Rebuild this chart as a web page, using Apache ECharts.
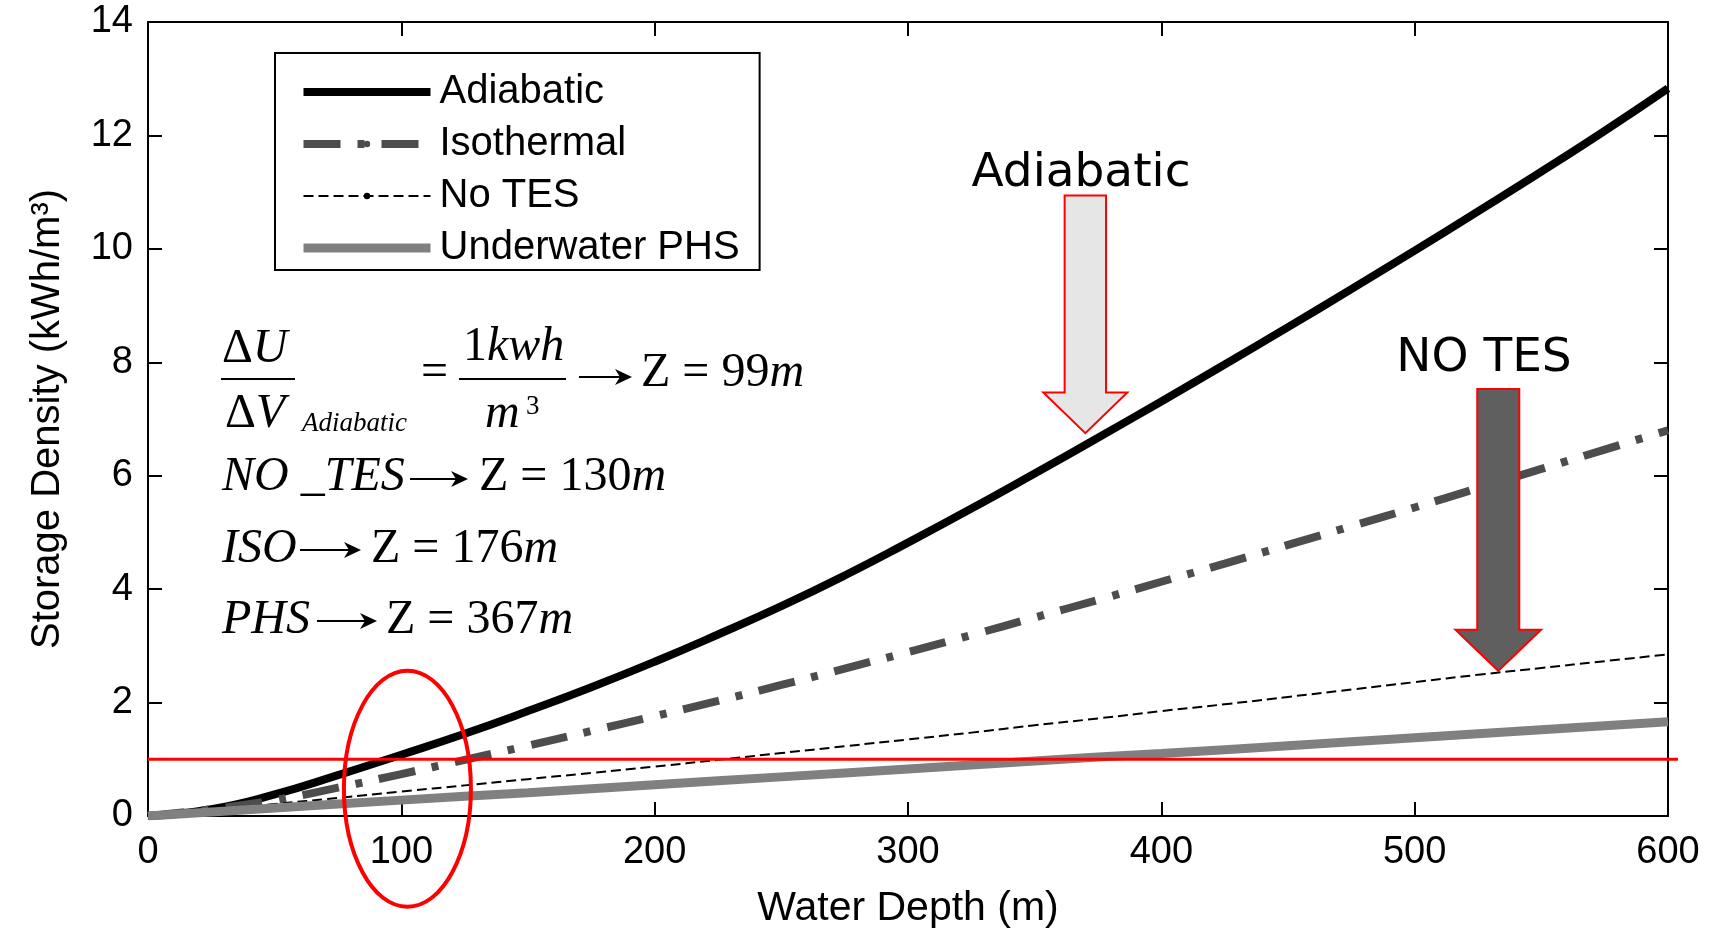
<!DOCTYPE html>
<html><head><meta charset="utf-8">
<script src="https://cdn.jsdelivr.net/npm/echarts@6/dist/echarts.min.js"></script>
<style>html,body{margin:0;padding:0;background:#fff}#c{width:1714px;height:934px}</style>
</head><body><div id="c"></div><script>
// ---- data ----
const depth = [0,25,50,75,100,125,150,175,200,225,250,275,300,325,350,375,400,425,450,475,500,525,550,575,600];
const adiabatic = [0,0.12,0.38,0.72,1.08,1.45,1.85,2.27,2.72,3.2,3.7,4.24,4.82,5.42,6.04,6.67,7.31,7.96,8.62,9.29,9.97,10.66,11.36,12.08,12.83];
const isothermal = [0,0.12,0.28,0.5,0.74,0.99,1.24,1.5,1.76,2.03,2.31,2.6,2.89,3.19,3.5,3.81,4.13,4.45,4.78,5.11,5.44,5.78,6.12,6.46,6.8];
const noTES = [0,0.1,0.21,0.32,0.43,0.54,0.65,0.76,0.87,0.99,1.11,1.23,1.35,1.47,1.6,1.72,1.85,1.97,2.1,2.23,2.36,2.49,2.61,2.73,2.85];
const phs = [0,0.07,0.14,0.21,0.28,0.35,0.41,0.48,0.55,0.62,0.69,0.76,0.83,0.9,0.97,1.04,1.1,1.17,1.24,1.31,1.38,1.45,1.52,1.59,1.66];
const seriesNames = ['Adiabatic','Isothermal','No TES','Underwater PHS'];
const xTicks = {min:0, max:600, interval:100};
const yTicks = {min:0, max:14, interval:2};
const thresholdValue = 1;       // red reference line
const circleCenter = [102.4, 0.48];
const adiabaticArrowTip = [370, 6.75];
const noTesArrowTip = [533, 2.56];

// ---- chart ----
const SANS = '"Liberation Sans", Arial, sans-serif';
const SERIF = '"Liberation Serif", "Times New Roman", serif';
const DEJ = '"DejaVu Sans", Verdana, sans-serif';
const chart = echarts.init(document.getElementById('c'));
const pairs = v => depth.map((d,i)=>[d, v[i]]);

const lineAx = {lineStyle:{color:'#000', width:2}, onZero:false};
const tickAx = {inside:true, length:14, lineStyle:{color:'#000', width:2}};
const lbl = {color:'#000', fontSize:38, fontFamily:SANS};
const sm = {smooth:true};

chart.setOption({
  animation:false,
  backgroundColor:'#fff',
  grid:{left:148, right:46, top:22, bottom:114},
  xAxis:[
    {type:'value', ...xTicks, position:'bottom', axisLine:lineAx, axisTick:tickAx,
     axisLabel:{...lbl, margin:18}, splitLine:{show:false},
     name:'Water Depth (m)', nameLocation:'middle', nameGap:72,
     nameTextStyle:{color:'#000', fontSize:41, fontFamily:SANS}},
    {type:'value', ...xTicks, position:'top', axisLine:lineAx, axisTick:tickAx,
     axisLabel:{show:false}, splitLine:{show:false}}
  ],
  yAxis:[
    {type:'value', ...yTicks, position:'left', axisLine:lineAx, axisTick:tickAx,
     axisLabel:{...lbl, margin:15}, splitLine:{show:false},
     name:'Storage Density (kWh/m³)', nameLocation:'middle', nameGap:80,
     nameTextStyle:{color:'#000', fontSize:40, fontFamily:SANS}},
    {type:'value', ...yTicks, position:'right', axisLine:lineAx, axisTick:tickAx,
     axisLabel:{show:false}, splitLine:{show:false}}
  ],
  legend:{
    orient:'vertical', left:275, top:53, padding:[17,20,0,24],
    itemWidth:127, itemHeight:8, itemGap:8,
    borderColor:'#000', borderWidth:2, backgroundColor:'#fff',
    textStyle:{fontSize:40, fontFamily:SANS, color:'#000', lineHeight:44, padding:[0,0,0,4]},
    data:[
      {name:seriesNames[0], lineStyle:{width:8}},
      {name:seriesNames[1], lineStyle:{width:8}},
      {name:seriesNames[2], lineStyle:{width:2}},
      {name:seriesNames[3], lineStyle:{width:9}}
    ]
  },
  series:[
    {name:seriesNames[0], type:'line', data:pairs(adiabatic), symbol:'none', ...sm,
     lineStyle:{color:'#000', width:8}, itemStyle:{color:'#000'}},
    {name:seriesNames[1], type:'line', data:pairs(isothermal), symbol:'none', ...sm,
     lineStyle:{color:'#4d4d4d', width:8, type:[37,17,7,17]}, itemStyle:{color:'#4d4d4d'}},
    {name:seriesNames[2], type:'line', data:pairs(noTES), symbol:'circle', symbolSize:6, showSymbol:false, ...sm,
     lineStyle:{color:'#000', width:2, type:[10,5]}, itemStyle:{color:'#000'}},
    {name:seriesNames[3], type:'line', data:pairs(phs), symbol:'none',
     lineStyle:{color:'#808080', width:9}, itemStyle:{color:'#808080'}}
  ]
});

const P = v => chart.convertToPixel({gridIndex:0}, v);
const l0 = P([xTicks.min, thresholdValue]), l1 = P([xTicks.max, thresholdValue]);
const cc = P(circleCenter);
const a1 = P(adiabaticArrowTip), a2 = P(noTesArrowTip);

function arrow(tip, halfShaft, shaftLen, headLen, halfHead, fill){
  const [tx,ty] = tip;
  return {type:'polygon', z:100,
    shape:{points:[[tx-halfShaft,ty-shaftLen],[tx+halfShaft,ty-shaftLen],[tx+halfShaft,ty-headLen],
                   [tx+halfHead,ty-headLen],[tx,ty],[tx-halfHead,ty-headLen],[tx-halfShaft,ty-headLen]]},
    style:{fill:fill, stroke:'#ff0000', lineWidth:2}};
}
const FS = 48;
const rich = {
  i:{fontStyle:'italic', fontSize:FS, fontFamily:SERIF, fill:'#000'},
  r:{fontSize:FS, fontFamily:SERIF, fill:'#000'}
};
function mtext(x, baseline, t){
  return {type:'text', z:100, x:x, y:baseline - 0.3375*FS,
    style:{text:t, rich:rich, fill:'#000', fontSize:FS, fontFamily:SERIF,
           align:'left', verticalAlign:'middle', textAlign:'left', textVerticalAlign:'middle'}};
}
function stext(x, yMid, t, fs, fam, style, align){
  return {type:'text', z:100, x:x, y:yMid,
    style:{text:t, fill:'#000', fontSize:fs, fontFamily:fam, fontStyle:style||'normal',
           align:align||'left', verticalAlign:'middle', textAlign:align||'left', textVerticalAlign:'middle'}};
}
function hline(x1,x2,y,w,c){
  return {type:'line', z:100, shape:{x1:x1,y1:y,x2:x2,y2:y}, style:{stroke:c||'#000', lineWidth:w}};
}
function marrow(x1,x2,y){
  return [
    {type:'line', z:100, shape:{x1:x1,y1:y,x2:x2-8,y2:y}, style:{stroke:'#000', lineWidth:2.2}},
    {type:'polygon', z:100, shape:{points:[[x2,y],[x2-17,y-8],[x2-12,y],[x2-17,y+8]]}, style:{fill:'#000'}}
  ];
}

chart.setOption({graphic:[
  hline(l0[0], l1[0]+10, l0[1], 3, '#ff0000'),
  {type:'ellipse', z:100, shape:{cx:cc[0], cy:cc[1], rx:63.5, ry:118}, style:{fill:'none', stroke:'#ff0000', lineWidth:4}},
  arrow(a1, 20.7, 237.7, 40.7, 42, '#e6e6e6'),
  arrow(a2, 21, 281.7, 41, 42.8, '#5f5f5f'),
  stext(1081, 174, 'Adiabatic', 47, DEJ, 'normal', 'center'),
  stext(1484, 359, 'NO TES', 47, DEJ, 'normal', 'center'),
  // equation block
  mtext(222, 366, '{r|Δ}{i|U}'),
  hline(221, 295, 379, 2),
  mtext(225, 431, '{r|Δ}{i|V}'),
  stext(302, 433 - 0.3375*27, 'Adiabatic', 27, SERIF, 'italic'),
  mtext(421, 390, '{r|=}'),
  mtext(463, 364, '{r|1}{i|kwh}'),
  hline(459, 566, 379, 2),
  mtext(485, 431, '{i|m}'),
  stext(526, 416 - 0.3375*27, '3', 27, SERIF, 'normal'),
  ...marrow(579, 632, 377),
  mtext(641, 390, '{r|Z = 99}{i|m}'),
  mtext(222, 494, '{i|NO _TES}'),
  ...marrow(410, 468, 479),
  mtext(479, 494, '{r|Z = 130}{i|m}'),
  mtext(222, 566, '{i|ISO}'),
  ...marrow(300, 361, 550),
  mtext(371, 566, '{r|Z = 176}{i|m}'),
  mtext(222, 637, '{i|PHS}'),
  ...marrow(317, 377, 621),
  mtext(386, 637, '{r|Z = 367}{i|m}')
]});
</script></body></html>
